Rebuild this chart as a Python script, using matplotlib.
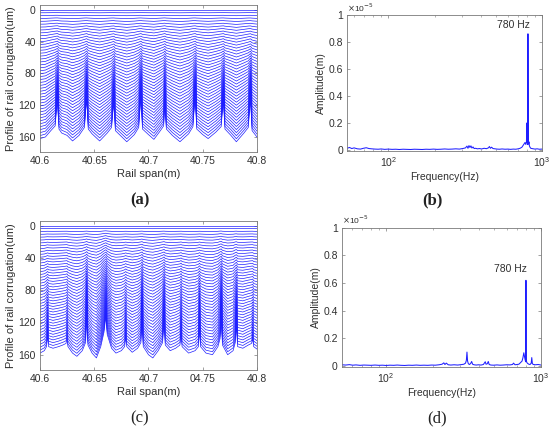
import matplotlib
matplotlib.use("Agg")
import matplotlib.pyplot as plt
import numpy as np

plt.rcParams['font.family'] = ['Liberation Sans', 'DejaVu Sans']

# ---------------- data ----------------
# Waterfall profiles: knots along the rail (m); deepest (bottom) line values (um),
# and the same line with the sharp spike tips removed (broad wave part).
a_x = [40.600, 40.605, 40.610, 40.614, 40.616, 40.6175, 40.620, 40.625, 40.630, 40.636,
       40.641, 40.643, 40.6445, 40.648, 40.655, 40.662, 40.666, 40.668, 40.6695, 40.674,
       40.680, 40.687, 40.691, 40.693, 40.6945, 40.700, 40.705, 40.711, 40.714, 40.715,
       40.7165, 40.722, 40.729, 40.737, 40.741, 40.743, 40.7445, 40.750, 40.755, 40.762,
       40.767, 40.769, 40.7705, 40.776, 40.781, 40.788, 40.792, 40.794, 40.7955, 40.800]
a_bottom = [162, 160, 152, 146, 112, 150, 155, 158, 165, 158,
            148, 110, 150, 156, 165, 155, 148, 115, 152, 158,
            166, 157, 148, 108, 150, 157, 163, 152, 146, 118,
            150, 158, 166, 156, 147, 106, 150, 157, 162, 154,
            147, 112, 150, 158, 166, 155, 148, 110, 152, 160]
a_broad = [162, 160, 152, 146, 145, 150, 155, 158, 165, 158,
           148, 146, 150, 156, 165, 155, 148, 147, 152, 158,
           166, 157, 148, 146, 150, 157, 163, 152, 146, 145,
           150, 158, 166, 156, 147, 146, 150, 157, 162, 154,
           147, 146, 150, 158, 166, 155, 148, 147, 152, 160]

c_x = [40.600, 40.604, 40.606, 40.607, 40.608, 40.612, 40.617, 40.621, 40.624, 40.6248,
       40.6258, 40.630, 40.634, 40.639, 40.642, 40.643, 40.6442, 40.648, 40.652, 40.656,
       40.659, 40.6607, 40.662, 40.666, 40.670, 40.675, 40.678, 40.679, 40.680, 40.685,
       40.690, 40.693, 40.694, 40.6952, 40.700, 40.704, 40.709, 40.713, 40.7143, 40.7155,
       40.720, 40.725, 40.729, 40.730, 40.731, 40.737, 40.743, 40.746, 40.747, 40.748,
       40.753, 40.759, 40.764, 40.766, 40.767, 40.7682, 40.773, 40.778, 40.780, 40.781,
       40.7822, 40.787, 40.792, 40.795, 40.796, 40.797, 40.800]
c_bottom = [158, 155, 150, 137, 150, 152, 150, 148, 146, 140,
            150, 158, 162, 155, 145, 112, 148, 158, 164, 150,
            132, 112, 135, 152, 158, 155, 150, 138, 150, 157,
            152, 145, 112, 150, 160, 164, 155, 145, 116, 148,
            155, 152, 148, 135, 150, 158, 155, 150, 128, 150,
            158, 160, 150, 140, 110, 148, 160, 155, 145, 122,
            150, 152, 148, 146, 140, 150, 153]
c_broad = [158, 155, 150, 148, 150, 152, 150, 148, 146, 146,
           150, 158, 162, 155, 145, 140, 148, 158, 164, 150,
           132, 125, 135, 152, 158, 155, 150, 148, 150, 157,
           152, 145, 142, 150, 160, 164, 155, 145, 142, 148,
           155, 152, 148, 146, 150, 158, 155, 150, 147, 150,
           158, 160, 150, 140, 138, 148, 160, 155, 145, 143,
           150, 152, 148, 146, 146, 150, 153]

# per-line growth of the broad wave and of the sharp spikes (top line -> bottom line)
broad_scales = [0.0, 0.011, 0.025, 0.040, 0.056, 0.074, 0.092, 0.110, 0.129, 0.149,
                0.169, 0.189, 0.210, 0.232, 0.253, 0.275, 0.297, 0.320, 0.342, 0.365,
                0.388, 0.411, 0.435, 0.459, 0.483, 0.507, 0.532, 0.556, 0.581, 0.606,
                0.632, 0.657, 0.682, 0.708, 0.734, 0.760, 0.786, 0.812, 0.839, 0.865,
                0.892, 0.919, 0.946, 0.973, 1.0]
spike_scales = [0.0, 0.0, 0.0, 0.0, 0.001, 0.001, 0.003, 0.004, 0.006, 0.009,
                0.012, 0.016, 0.020, 0.026, 0.032, 0.040, 0.048, 0.058, 0.068, 0.081,
                0.094, 0.109, 0.125, 0.143, 0.162, 0.183, 0.206, 0.231, 0.258, 0.286,
                0.317, 0.350, 0.385, 0.422, 0.461, 0.503, 0.548, 0.595, 0.644, 0.696,
                0.751, 0.809, 0.870, 0.933, 1.0]
LINE_STEP = 3.42   # vertical spacing between successive profiles (um)

a_xticks = [40.6, 40.65, 40.7, 40.75, 40.8]
a_xticklabels = ['40.6', '40.65', '40.7', '40.75', '40.8']
c_xticklabels = ['40.6', '40.65', '40.7', '04.75', '40.8']
prof_yticks = [0, 40, 80, 120, 160]

# Spectra (amplitude in 1e-5 m)
b_freq = [54, 56, 58, 60, 63, 66, 69, 72, 75, 78, 82, 86, 90, 95, 100, 106, 112, 118, 125, 132,
          140, 148, 157, 166, 176, 186, 197, 208, 220, 233, 246, 260, 275, 290, 305, 318, 325, 330,
          335, 340, 345, 350, 356, 362, 370, 380, 392, 405, 420, 435, 448, 455, 462, 470, 480, 495,
          510, 530, 550, 575, 600, 625, 650, 675, 700, 720, 740, 755, 765, 775, 785, 792, 798, 803,
          806, 808, 810, 812, 815, 818, 822, 828, 835, 845, 860, 880, 900, 930, 960, 1000]
b_amp = [0.012, 0.018, 0.010, 0.015, 0.008, 0.006, 0.012, 0.016, 0.010, 0.008,
         0.006, 0.005, 0.007, 0.004, 0.006, 0.004, 0.005, 0.003, 0.005, 0.004,
         0.003, 0.005, 0.004, 0.003, 0.005, 0.004, 0.006, 0.004, 0.005, 0.007,
         0.005, 0.006, 0.008, 0.006, 0.010, 0.015, 0.028, 0.012, 0.032, 0.018,
         0.030, 0.014, 0.022, 0.010, 0.012, 0.008, 0.010, 0.007, 0.012, 0.009,
         0.015, 0.025, 0.012, 0.020, 0.010, 0.008, 0.006, 0.005, 0.007, 0.005,
         0.006, 0.004, 0.006, 0.005, 0.008, 0.012, 0.020, 0.035, 0.045, 0.055,
         0.040, 0.060, 0.200, 0.050, 0.070, 0.040, 0.860, 0.350, 0.060, 0.045,
         0.060, 0.030, 0.020, 0.012, 0.010, 0.008, 0.006, 0.008, 0.005, 0.006]

d_freq = [52, 55, 58, 61, 64, 68, 72, 76, 80, 85, 90, 95, 100, 106, 112, 118, 125, 132, 140, 148,
          157, 166, 176, 186, 197, 208, 220, 230, 236, 240, 245, 252, 262, 275, 290, 305, 318, 326,
          330, 333, 336, 340, 346, 352, 357, 362, 370, 382, 395, 410, 425, 437, 442, 450, 457, 463,
          475, 495, 520, 545, 570, 600, 630, 655, 665, 680, 700, 720, 740, 755, 765, 775, 782, 790,
          796, 800, 804, 810, 820, 835, 850, 865, 872, 880, 895, 920, 960, 1000]
d_amp = [0.008, 0.006, 0.009, 0.005, 0.007, 0.004, 0.006, 0.005, 0.004, 0.006,
         0.004, 0.005, 0.003, 0.005, 0.004, 0.006, 0.004, 0.003, 0.005, 0.004,
         0.006, 0.004, 0.005, 0.004, 0.006, 0.005, 0.008, 0.012, 0.022, 0.010,
         0.020, 0.008, 0.006, 0.008, 0.006, 0.009, 0.012, 0.020, 0.040, 0.100,
         0.035, 0.015, 0.010, 0.018, 0.032, 0.012, 0.008, 0.006, 0.008, 0.006,
         0.010, 0.030, 0.012, 0.015, 0.032, 0.010, 0.006, 0.005, 0.007, 0.005,
         0.006, 0.008, 0.007, 0.010, 0.020, 0.008, 0.010, 0.012, 0.025, 0.035,
         0.060, 0.095, 0.070, 0.045, 0.030, 0.620, 0.040, 0.025, 0.018, 0.012,
         0.010, 0.020, 0.060, 0.015, 0.010, 0.008, 0.010, 0.006]

amp_yticks = [0, 0.2, 0.4, 0.6, 0.8, 1.0]
amp_yticklabels = ['0', '0.2', '0.4', '0.6', '0.8', '1']
peak_label = '780 Hz'

# ---------------- plotting ----------------
fig = plt.figure(figsize=(5.5, 4.32), dpi=100)
SPINE = '#7a7a7a'
TXT = '#303030'
FS = 7.5
BLUE = (0.12, 0.12, 1.0)

def style(ax):
    for s in ax.spines.values():
        s.set_color(SPINE)
        s.set_linewidth(0.6)
    ax.tick_params(direction='in', top=True, right=True, length=2.5, width=0.5,
                   colors=SPINE, labelcolor=TXT, labelsize=FS, pad=3)
    ax.tick_params(which='minor', direction='in', top=True, right=True, length=1.5,
                   width=0.4, colors=SPINE)

def waterfall(ax, xs, bottom, broad, xlabels):
    base = LINE_STEP * (len(broad_scales) - 1)
    xs = np.array(xs)
    broad = np.array(broad, dtype=float)
    broad_dev = broad - base
    spike_dev = np.array(bottom, dtype=float) - broad
    for i, (sb, ss) in enumerate(zip(broad_scales, spike_scales)):
        ax.plot(xs, i * LINE_STEP + sb * broad_dev + ss * spike_dev, color=BLUE, lw=0.5)
    ax.set_xlim(40.6, 40.8)
    ax.set_ylim(179, -6)
    ax.set_xticks(a_xticks)
    ax.set_xticklabels(xlabels)
    ax.set_yticks(prof_yticks)
    ax.set_xlabel('Rail span(m)', fontsize=FS + 0.5, color=TXT, labelpad=2)
    ax.set_ylabel('Profile of rail corrugation(um)', fontsize=FS + 0.5, color=TXT, labelpad=2)
    style(ax)

def spectrum(ax, f, a, xlo, label_xy):
    ax.plot(f, a, color=BLUE, lw=0.75)
    ax.set_xscale('log')
    ax.set_xlim(xlo, 1000)
    ax.set_ylim(-0.008, 1.0)
    ax.set_yticks(amp_yticks)
    ax.set_yticklabels(amp_yticklabels)
    ax.set_xlabel('Frequency(Hz)', fontsize=FS, color=TXT, labelpad=2)
    ax.set_ylabel('Amplitude(m)', fontsize=FS, color=TXT, labelpad=2)
    ax.text(label_xy[0], label_xy[1], peak_label, fontsize=FS, color=TXT,
            ha='center', va='center')
    ax.text(0.0, 1.01, r'$\times$10$^{-5}$', transform=ax.transAxes, fontsize=6,
            color=TXT, ha='left', va='bottom')
    style(ax)

ax_a = fig.add_axes([0.0727, 0.648, 0.3945, 0.340])
waterfall(ax_a, a_x, a_bottom, a_broad, a_xticklabels)

ax_c = fig.add_axes([0.0727, 0.1435, 0.3945, 0.345])
waterfall(ax_c, c_x, c_bottom, c_broad, c_xticklabels)

ax_b = fig.add_axes([0.631, 0.6505, 0.3545, 0.315])
spectrum(ax_b, b_freq, b_amp, 54, (656, 0.925))

ax_d = fig.add_axes([0.6218, 0.1505, 0.3618, 0.322])
spectrum(ax_d, d_freq, d_amp, 52, (637, 0.70))

cap = dict(fontsize=12, color='#222222', ha='center', va='center',
           family=['Liberation Serif', 'DejaVu Serif'])
fig.text(140 / 550, 1 - 200 / 432, '(a)', fontweight='bold', **cap)
fig.text(432 / 550, 1 - 200 / 432, '(b)', fontweight='bold', **cap)
fig.text(140 / 550, 1 - 418 / 432, '(c)', **cap)
fig.text(437 / 550, 1 - 418 / 432, '(d)', **cap)

fig.savefig('out.png', dpi=100)
